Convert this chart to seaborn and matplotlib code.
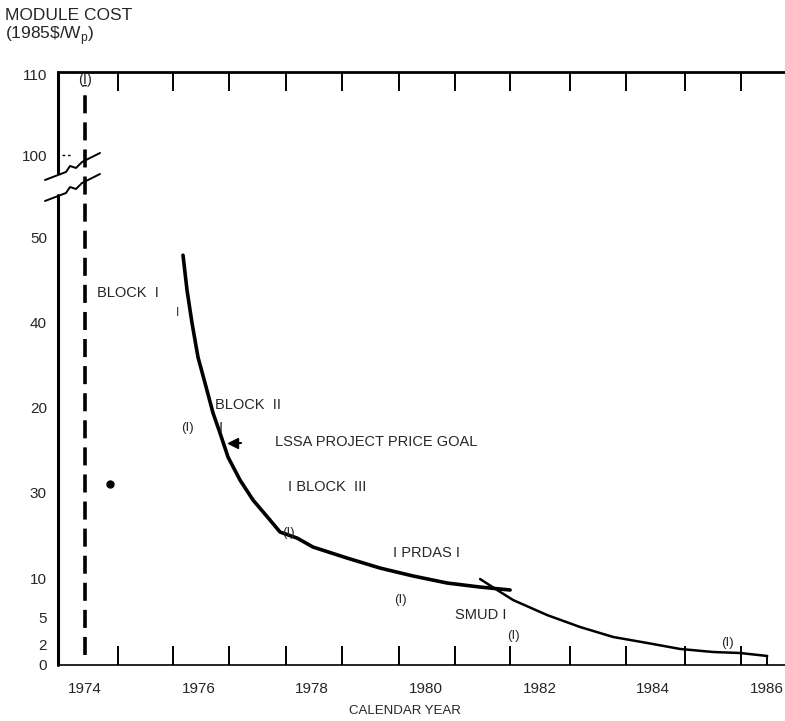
import pandas as pd
import matplotlib
matplotlib.use("Agg")
import matplotlib.pyplot as plt
import seaborn as sns

# Curve (y is axis position, not a linear cost value)
years_main = [1975.725, 1975.796, 1975.884, 1975.989, 1976.113, 1976.254, 1976.377, 1976.518,
              1976.729, 1976.958, 1977.257, 1977.433, 1977.732, 1978.014, 1978.613, 1979.194,
              1979.775, 1980.373, 1980.954, 1981.482]
cost_pos_main = [4.858, 4.443, 4.052, 3.649, 3.341, 2.986, 2.749, 2.464,
                 2.192, 1.955, 1.718, 1.576, 1.505, 1.398, 1.268, 1.149,
                 1.055, 0.972, 0.924, 0.889]

years_tail = [1980.954, 1981.254, 1981.535, 1982.134, 1982.715, 1983.296, 1983.894,
              1984.475, 1985.056, 1985.532, 1986.007]
cost_pos_tail = [1.019, 0.889, 0.770, 0.592, 0.450, 0.332, 0.261,
                 0.190, 0.154, 0.142, 0.107]

# y axis labels as printed on the original (broken, non-linear axis)
ytick_pos = [0, 0.24, 0.56, 1.03, 2.04, 3.05, 4.06, 5.07, 6.04, 7.0]
ytick_labels = ["0", "2", "5", "10", "30", "20", "40", "50", "100", "110"]

xtick_years = [1974, 1976, 1978, 1980, 1982, 1984, 1986]
minor_ticks = [1974.58, 1975.55, 1976.53, 1977.53, 1978.52, 1979.52, 1980.51,
               1981.48, 1982.54, 1983.52, 1984.56, 1985.54]

sns.set_style("white")
plt.rcParams['font.family'] = ['Liberation Sans', 'DejaVu Sans']

fig = plt.figure(figsize=(7.85, 7.21), dpi=100)
ax = fig.add_axes([58 / 785, 56 / 721, 727 / 785, 593 / 721])

main_df = pd.DataFrame({'year': years_main, 'cost': cost_pos_main})
tail_df = pd.DataFrame({'year': years_tail, 'cost': cost_pos_tail})
sns.lineplot(data=main_df, x='year', y='cost', color='black', lw=2.6, sort=False, ax=ax)
sns.lineplot(data=tail_df, x='year', y='cost', color='black', lw=1.8, sort=False, ax=ax)
ax.plot([years_tail[-1]] * 2, [cost_pos_tail[-1], 0], color='black', lw=1.4)

# dashed line at 1974
ax.plot([1974, 1974], [0.12, 6.88], color='black', lw=2.6, ls=(0, (5, 2.5)))

ax.set_xlim(1973.525, 1986.32)
ax.set_ylim(0, 7.03)

ax.set_yticks(ytick_pos)
ax.set_yticklabels(ytick_labels)
ax.set_xticks(xtick_years)
ax.set_xticklabels([str(y) for y in xtick_years])
ax.set_xticks(minor_ticks, minor=True)
ax.tick_params(axis='both', which='major', length=0, labelsize=11)
ax.tick_params(axis='x', which='major', pad=12)
ax.tick_params(axis='y', which='major', pad=8)
ax.tick_params(axis='x', which='minor', direction='in', length=14, width=1.4,
               top=True, bottom=True, color='black')

ax.spines['right'].set_visible(False)
ax.spines['left'].set_visible(False)
ax.spines['top'].set_linewidth(2.0)
ax.spines['bottom'].set_linewidth(1.2)
for side in ['top', 'bottom']:
    ax.spines[side].set_color('black')

# left spine with a break
tr = ax.transAxes
ax.plot([0, 0], [0, (665 - 195) / 593], color='black', lw=2.2, transform=tr, clip_on=False)
ax.plot([0, 0], [(665 - 173) / 593, 1], color='black', lw=2.2, transform=tr, clip_on=False)
bx = [(45 - 58) / 727, (66 - 58) / 727, (70 - 58) / 727, (76 - 58) / 727, (82 - 58) / 727, (100 - 58) / 727]
up = [(665 - p) / 593 for p in [180, 172, 166, 168, 162, 153]]
lo = [(665 - p) / 593 for p in [201, 193, 187, 189, 183, 174]]
ax.plot(bx, up, color='black', lw=1.4, transform=tr, clip_on=False)
ax.plot(bx, lo, color='black', lw=1.4, transform=tr, clip_on=False)
ax.plot([(62 - 58) / 727, (70 - 58) / 727], [(665 - 155) / 593] * 2, color='black', lw=1,
        ls=(0, (2, 2)), transform=tr, clip_on=False)

# annotations
fs = 10.5
ax.text(1974.0, 6.93, "(I)", ha='center', va='center', fontsize=fs)
ax.text(1974.21, 4.41, "BLOCK  I", ha='left', va='center', fontsize=fs)
ax.text(1975.62, 4.17, "I", ha='center', va='center', fontsize=fs - 2)
ax.text(1975.80, 2.81, "(I)", ha='center', va='center', fontsize=fs - 1)
ax.text(1976.39, 2.81, "I", ha='center', va='center', fontsize=fs)
ax.text(1976.29, 3.08, "BLOCK  II", ha='left', va='center', fontsize=fs)
ax.plot([1976.60], [2.63], marker='<', color='black', ms=7)
ax.plot([1976.60, 1976.75], [2.63, 2.63], color='black', lw=1.5)
ax.text(1977.35, 2.64, "LSSA PROJECT PRICE GOAL", ha='left', va='center', fontsize=fs)
ax.text(1977.57, 2.11, "I BLOCK  III", ha='left', va='center', fontsize=fs)
ax.text(1977.58, 1.56, "(I)", ha='center', va='center', fontsize=fs - 1)
ax.text(1979.42, 1.33, "I PRDAS I", ha='left', va='center', fontsize=fs)
ax.text(1979.55, 0.77, "(I)", ha='center', va='center', fontsize=fs - 1)
ax.text(1980.51, 0.59, "SMUD I", ha='left', va='center', fontsize=fs)
ax.text(1981.54, 0.34, "(I)", ha='center', va='center', fontsize=fs - 1)
ax.text(1985.30, 0.26, "(I)", ha='center', va='center', fontsize=fs - 1)
ax.plot([1974.44], [2.14], marker='o', color='black', ms=5)

ax.set_xlabel("CALENDAR YEAR", fontsize=9.5, va='center')
ax.set_ylabel("")
ax.xaxis.set_label_coords((405 - 58) / 727, (665 - 711) / 593)

fig.text(5 / 785, 1 - 8 / 721, "MODULE COST\n(1985\\$/W$_\\mathregular{p}$)", ha='left', va='top',
         fontsize=12.5, linespacing=1.05)

plt.savefig("out.png", dpi=100)
plt.close(fig)
